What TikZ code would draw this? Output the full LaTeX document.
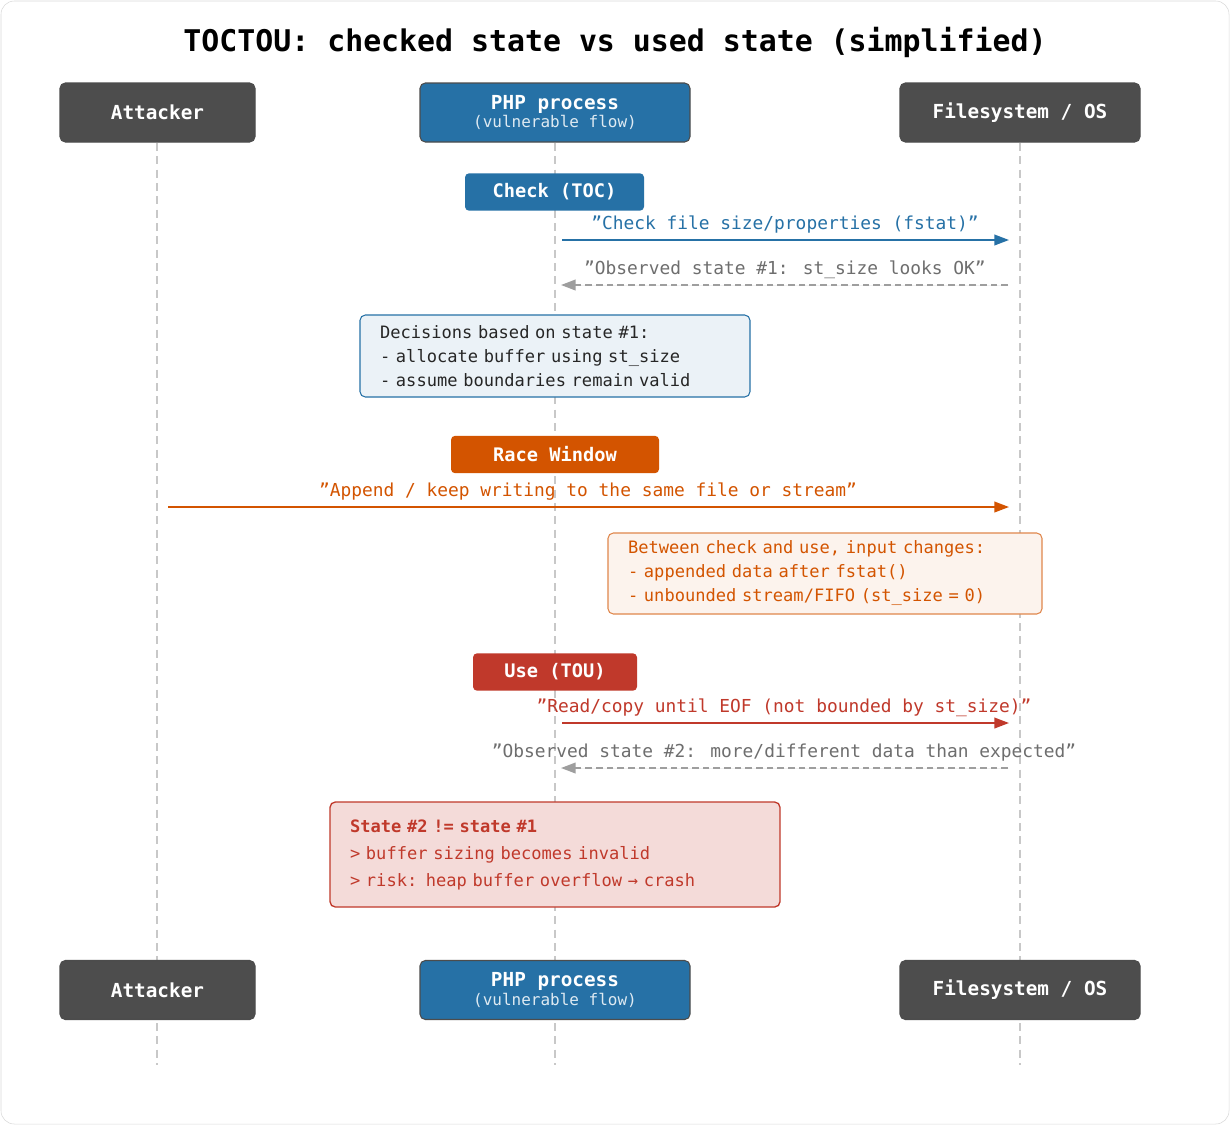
\documentclass[tikz,border=0pt]{standalone}
\usepackage{fontspec}
\setmainfont{DejaVu Sans Mono}
\usetikzlibrary{arrows.meta}
\definecolor{cblue}{HTML}{2671A6}
\definecolor{cdark}{HTML}{4D4D4D}
\definecolor{corange}{HTML}{D35400}
\definecolor{cred}{HTML}{C0392B}
\definecolor{cgray}{HTML}{9E9E9E}
\definecolor{cgtext}{HTML}{6E6E6E}
\definecolor{cline}{HTML}{C8C8C8}
\tikzset{
  actor/.style={draw=black!70, fill=#1, rounded corners=4pt, text=white, font=\fontsize{14.5}{16}\selectfont\bfseries, align=center, inner sep=0pt, line width=0.8pt},
  phase/.style={fill=#1, rounded corners=3pt, text=white, font=\fontsize{14}{16}\selectfont\bfseries, inner sep=0pt, minimum height=28pt},
  life/.style={draw=cline, line width=1.2pt, dash pattern=on 6pt off 4pt},
  msg/.style={line width=1.3pt, -{Triangle[length=11pt,width=8pt]}},
  ret/.style={draw=cgray, line width=1.3pt, dash pattern=on 5pt off 3pt, -{Triangle[length=11pt,width=8pt]}},
  lab/.style={font=\fontsize{13.4}{15}\selectfont, inner sep=0pt},
  note/.style={draw=#1, rounded corners=4pt, line width=0.8pt, align=left, inner xsep=15pt, inner ysep=0pt, font=\fontsize{12.8}{18}\selectfont},
}
\begin{document}
\begin{tikzpicture}[x=0.75pt,y=-0.75pt]
\useasboundingbox (0,0) rectangle (1230,1125);
\draw[draw=black!15, fill=white, rounded corners=10pt] (1,1) rectangle (1229,1124);
\node[font=\fontsize{22.4}{26}\selectfont\bfseries] (title) at (615,42) {TOCTOU: checked state vs used state (simplified)};
% lifelines
\coordinate (la0) at (157,143); \coordinate (la1) at (157,1065);
\coordinate (lp0) at (555,143); \coordinate (lp1) at (555,1065);
\coordinate (lf0) at (1020,143); \coordinate (lf1) at (1020,1065);
\draw[life] (la0) -- (la1);
\draw[life] (lp0) -- (lp1);
\draw[life] (lf0) -- (lf1);
% actors
\node[actor=cdark, minimum width=146.25pt, minimum height=44.25pt] (att) at (157.5,112.5) {Attacker};
\node[actor=cblue, minimum width=202.5pt, minimum height=44.25pt] (php) at (555,112.5) {PHP process\\[-2pt]{\fontsize{12}{14}\selectfont\mdseries\color{white!85!cblue}(vulnerable flow)}};
\node[actor=cdark, minimum width=180pt, minimum height=44.25pt] (fs) at (1020,112.5) {Filesystem / OS};
\node[actor=cdark, minimum width=146.25pt, minimum height=44.25pt] (att2) at (157.5,990) {Attacker};
\node[actor=cblue, minimum width=202.5pt, minimum height=44.25pt] (php2) at (555,990) {PHP process\\[-2pt]{\fontsize{12}{14}\selectfont\mdseries\color{white!85!cblue}(vulnerable flow)}};
\node[actor=cdark, minimum width=180pt, minimum height=44.25pt] (fs2) at (1020,990) {Filesystem / OS};
% check
\node[phase=cblue, minimum width=134.25pt] (toc) at (554.5,192) {Check (TOC)};
\coordinate (a1s) at (562,240); \coordinate (a1e) at (1009,240);
\draw[msg, draw=cblue, fill=cblue] (a1s) -- (a1e);
\node[lab, text=cblue] (l1) at (785,225) {"Check file size/properties (fstat)"};
\coordinate (r1s) at (1008,285); \coordinate (r1e) at (561,285);
\draw[ret, fill=cgray] (r1s) -- (r1e);
\node[lab, text=cgtext] (l2) at (785,270) {"Observed state \#1: st\_size looks OK"};
\node[note=cblue, fill=cblue!9, text width=262.5pt, minimum height=61.5pt, text=black!85] (dec) at (555,356) {Decisions based on state \#1:\\- allocate buffer using st\_size\\- assume boundaries remain valid};
% race
\node[phase=corange, minimum width=156pt] (race) at (555,454.5) {Race Window};
\coordinate (a2s) at (168,507); \coordinate (a2e) at (1009,507);
\draw[msg, draw=corange, fill=corange] (a2s) -- (a2e);
\node[lab, text=corange] (l3) at (588,492) {"Append / keep writing to the same file or stream"};
\node[note=corange!70, fill=corange!7, text width=295.5pt, minimum height=60.75pt, text=corange] (chg) at (825,573.5) {Between check and use, input changes:\\- appended data after fstat()\\- unbounded stream/FIFO (st\_size = 0)};
% use
\node[phase=cred, minimum width=123pt] (tou) at (555,672) {Use (TOU)};
\coordinate (a3s) at (562,723); \coordinate (a3e) at (1009,723);
\draw[msg, draw=cred, fill=cred] (a3s) -- (a3e);
\node[lab, text=cred] (l4) at (784,708) {"Read/copy until EOF (not bounded by st\_size)"};
\coordinate (r2s) at (1008,768); \coordinate (r2e) at (561,768);
\draw[ret, fill=cgray] (r2s) -- (r2e);
\node[lab, text=cgtext] (l5) at (784,753) {"Observed state \#2: more/different data than expected"};
\node[note=cred, fill=cred!18, text width=307.5pt, minimum height=78.75pt, text=cred, font=\fontsize{12.8}{20.25}\selectfont, line width=1pt] (bad) at (555,854.5) {\textbf{State \#2 != state \#1}\\> buffer sizing becomes invalid\\> risk: heap buffer overflow → crash};
\end{tikzpicture}
\end{document}
